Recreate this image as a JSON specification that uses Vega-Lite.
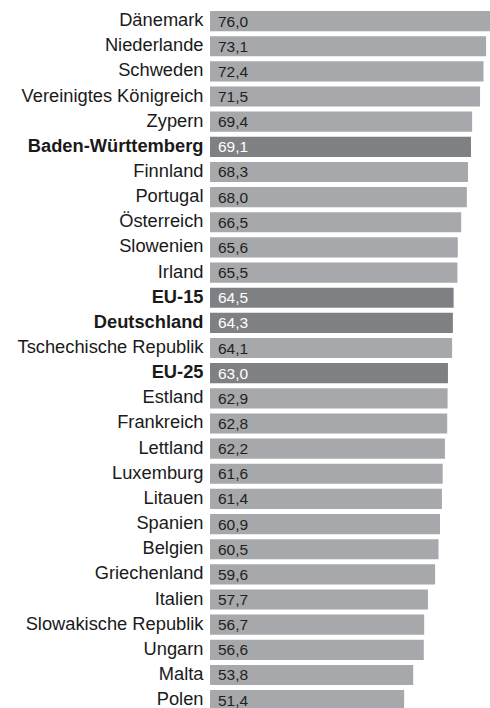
{
  "$schema": "https://vega.github.io/schema/vega-lite/v6.json",
  "autosize": {"type": "none"},
  "padding": {"left": 210, "top": 8.5, "right": 0, "bottom": 0},
  "width": 280,
  "height": 699.5,
  "background": "white",
  "config": {
    "view": {"stroke": null},
    "locale": {"number": {"decimal": ",", "thousands": ".", "grouping": [3], "currency": ["", " €"]}}
  },
  "data": {
    "values": [
      {"land": "Dänemark", "wert": 76.0, "gruppe": "Land"},
      {"land": "Niederlande", "wert": 73.1, "gruppe": "Land"},
      {"land": "Schweden", "wert": 72.4, "gruppe": "Land"},
      {"land": "Vereinigtes Königreich", "wert": 71.5, "gruppe": "Land"},
      {"land": "Zypern", "wert": 69.4, "gruppe": "Land"},
      {"land": "Baden-Württemberg", "wert": 69.1, "gruppe": "Hervorgehoben"},
      {"land": "Finnland", "wert": 68.3, "gruppe": "Land"},
      {"land": "Portugal", "wert": 68.0, "gruppe": "Land"},
      {"land": "Österreich", "wert": 66.5, "gruppe": "Land"},
      {"land": "Slowenien", "wert": 65.6, "gruppe": "Land"},
      {"land": "Irland", "wert": 65.5, "gruppe": "Land"},
      {"land": "EU-15", "wert": 64.5, "gruppe": "Hervorgehoben"},
      {"land": "Deutschland", "wert": 64.3, "gruppe": "Hervorgehoben"},
      {"land": "Tschechische Republik", "wert": 64.1, "gruppe": "Land"},
      {"land": "EU-25", "wert": 63.0, "gruppe": "Hervorgehoben"},
      {"land": "Estland", "wert": 62.9, "gruppe": "Land"},
      {"land": "Frankreich", "wert": 62.8, "gruppe": "Land"},
      {"land": "Lettland", "wert": 62.2, "gruppe": "Land"},
      {"land": "Luxemburg", "wert": 61.6, "gruppe": "Land"},
      {"land": "Litauen", "wert": 61.4, "gruppe": "Land"},
      {"land": "Spanien", "wert": 60.9, "gruppe": "Land"},
      {"land": "Belgien", "wert": 60.5, "gruppe": "Land"},
      {"land": "Griechenland", "wert": 59.6, "gruppe": "Land"},
      {"land": "Italien", "wert": 57.7, "gruppe": "Land"},
      {"land": "Slowakische Republik", "wert": 56.7, "gruppe": "Land"},
      {"land": "Ungarn", "wert": 56.6, "gruppe": "Land"},
      {"land": "Malta", "wert": 53.8, "gruppe": "Land"},
      {"land": "Polen", "wert": 51.4, "gruppe": "Land"}
    ]
  },
  "encoding": {
    "y": {
      "field": "land",
      "type": "nominal",
      "sort": null,
      "scale": {"range": [0, 704.2], "paddingInner": 0.2, "paddingOuter": 0.1},
      "axis": {
        "title": null,
        "domain": false,
        "ticks": false,
        "labelPadding": 7,
        "labelFont": "Liberation Sans",
        "labelFontSize": 18.3,
        "labelColor": "#1a1a1a",
        "labelLimit": 400,
        "labelFontWeight": {
          "condition": {"test": "indexof(['Baden-Württemberg','EU-15','Deutschland','EU-25'], datum.value) >= 0", "value": "bold"},
          "value": "normal"
        }
      }
    }
  },
  "layer": [
    {
      "mark": {"type": "bar", "clip": true},
      "encoding": {
        "x": {
          "field": "wert",
          "type": "quantitative",
          "scale": {"domain": [0, 74.13], "nice": false, "zero": true},
          "axis": null
        },
        "color": {
          "field": "gruppe",
          "type": "nominal",
          "scale": {"domain": ["Land", "Hervorgehoben"], "range": ["#a7a8ab", "#7f8083"]},
          "legend": null
        }
      }
    },
    {
      "mark": {"type": "text", "align": "left", "baseline": "middle", "dx": 8, "dy": 0.5, "font": "Liberation Sans", "fontSize": 15.5},
      "encoding": {
        "x": {"datum": 0, "type": "quantitative"},
        "text": {"field": "wert", "type": "quantitative", "format": ".1f"},
        "color": {
          "condition": {"test": "datum.gruppe === 'Hervorgehoben'", "value": "#ffffff"},
          "value": "#231f20"
        }
      }
    }
  ]
}
